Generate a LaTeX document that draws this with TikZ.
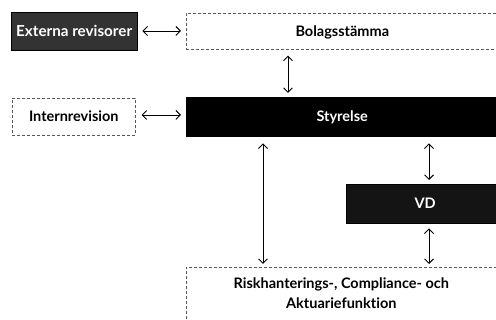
\documentclass[tikz,border=0pt]{standalone}
\usepackage{fontspec}
\setmainfont{Lato}[Ligatures=NoCommon]
\usetikzlibrary{arrows.meta}
\begin{document}
\begin{tikzpicture}[x=1pt,y=-1pt,
  lbl/.style={font=\bfseries\fontsize{14.5}{20}\selectfont},
  box/.style={anchor=north west,inner sep=0pt,text height=10.4pt,text depth=0pt,lbl},
  wbox/.style={box,draw=black!65,densely dashed,line width=0.6pt,fill=white},
  dbox/.style={box,draw=black,fill=black!80,text=white},
  vbox/.style={box,draw=black,fill=black!92,text=white},
  bbox/.style={box,draw=black,fill=black,text=white},
  arr/.style={{Straight Barb[length=4.5pt,width=9pt]}-{Straight Barb[length=4.5pt,width=9pt]},line width=0.9pt}]
\useasboundingbox (0,0) rectangle (496,320);
\clip (0,0) rectangle (496,320);
\node[dbox,minimum width=126pt,minimum height=38pt,font=\bfseries\fontsize{15.2}{18}\selectfont] (ext) at (11,12) {Externa revisorer};
\node[wbox,minimum width=312pt,minimum height=36pt] (bol) at (186,13) {Bolagsstämma};
\node[wbox,minimum width=123pt,minimum height=37pt] (int) at (12,98) {Internrevision};
\node[bbox,minimum width=312pt,minimum height=39pt] (sty) at (186,97) {Styrelse};
\node[vbox,minimum width=158pt,minimum height=39pt] (vd) at (346,184) {VD};
\node[wbox,minimum width=310pt,align=center,text height=41pt,text depth=40pt] (risk) at (186,267) {Riskhanterings-, Compliance- och\\Aktuariefunktion};
% connectors
\draw[arr] ([xshift=5pt]ext.east |- 0,31) -- ([xshift=-5pt]bol.west |- 0,31);
\draw[arr] ([xshift=6pt]int.east |- 0,115) -- ([xshift=-5pt]sty.west |- 0,115);
\draw[arr] ([yshift=-6pt]bol.south -| 288,0) -- ([yshift=4pt]sty.north -| 288,0);
\draw[arr] ([yshift=-7pt]sty.south -| 263,0) -- ([yshift=3pt]risk.north -| 263,0);
\draw[arr] ([yshift=-7pt]sty.south -| 429,0) -- ([yshift=4pt]vd.north -| 429,0);
\draw[arr] ([yshift=-5pt]vd.south -| 429,0) -- ([yshift=3pt]risk.north -| 429,0);
\end{tikzpicture}
\end{document}
